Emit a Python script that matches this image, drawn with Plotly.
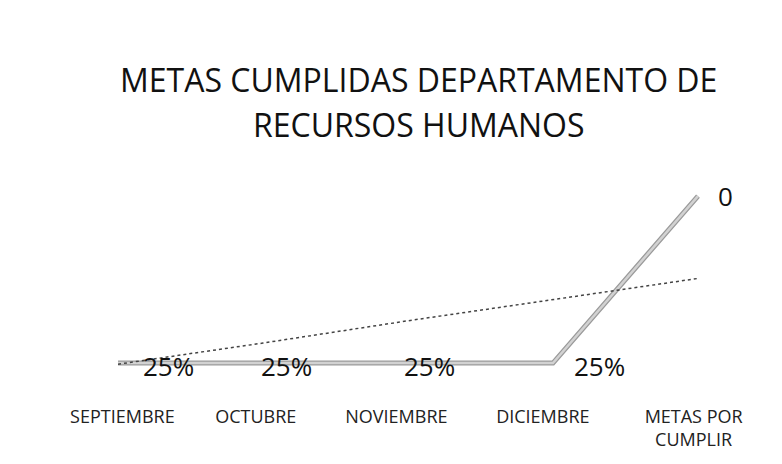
import plotly.graph_objects as go

# Data
categorias = ['SEPTIEMBRE', 'OCTUBRE', 'NOVIEMBRE', 'DICIEMBRE', 'METAS POR<br>CUMPLIR']
metas = [0.25, 0.25, 0.25, 0.25, 1.0]
etiquetas = ['25%', '25%', '25%', '25%', '0']
tendencia = [0.245, 0.34, 0.44, 0.535, 0.63]

FONT = 'Open Sans'
x = list(range(len(categorias)))

fig = go.Figure()

# main series: scanned look -> darker edge under a light grey core
fig.add_trace(go.Scatter(
    x=x, y=metas, mode='lines',
    line=dict(color='#9a9a9a', width=5),
    hoverinfo='skip', showlegend=False
))
fig.add_trace(go.Scatter(
    x=x, y=metas, mode='lines',
    line=dict(color='#d2d2d2', width=2.5),
    hoverinfo='skip', showlegend=False
))

# trend line
fig.add_trace(go.Scatter(
    x=x, y=tendencia, mode='lines',
    line=dict(color='#444444', width=1.5, dash='dot'),
    hoverinfo='skip', showlegend=False
))

# data labels, nudged like the original
label_shift = [50, 23, 22, 47, 28]
for xi, yi, txt, sh in zip(x, metas, etiquetas, label_shift):
    fig.add_annotation(
        x=xi, y=yi, text=txt, showarrow=False,
        xshift=sh, yshift=-3 if txt != '0' else 0,
        font=dict(family=FONT, size=26, color='#111111')
    )

# title in two lines
for txt, dy in [('METAS CUMPLIDAS DEPARTAMENTO DE', 89), ('RECURSOS HUMANOS', 44)]:
    fig.add_annotation(
        xref='paper', yref='paper', x=0.530, y=1.0, yanchor='middle',
        yshift=dy, text=txt, showarrow=False,
        font=dict(family=FONT, size=32, color='#111111')
    )

fig.update_layout(
    width=782, height=464,
    paper_bgcolor='white', plot_bgcolor='white',
    margin=dict(l=60, r=60, t=160, b=90),
    showlegend=False,
    xaxis=dict(
        range=[-0.345, 4.221], tickmode='array',
        tickvals=[0.03, 0.95, 1.92, 2.93, 3.97], ticktext=categorias,
        showgrid=False, zeroline=False, showline=False,
        ticks='outside', ticklen=18, tickcolor='rgba(0,0,0,0)',
        tickfont=dict(family=FONT, size=18, color='#222222')
    ),
    yaxis=dict(
        range=[0.165, 1.126], visible=False, showgrid=False, zeroline=False
    )
)

fig.write_html('out.html')
